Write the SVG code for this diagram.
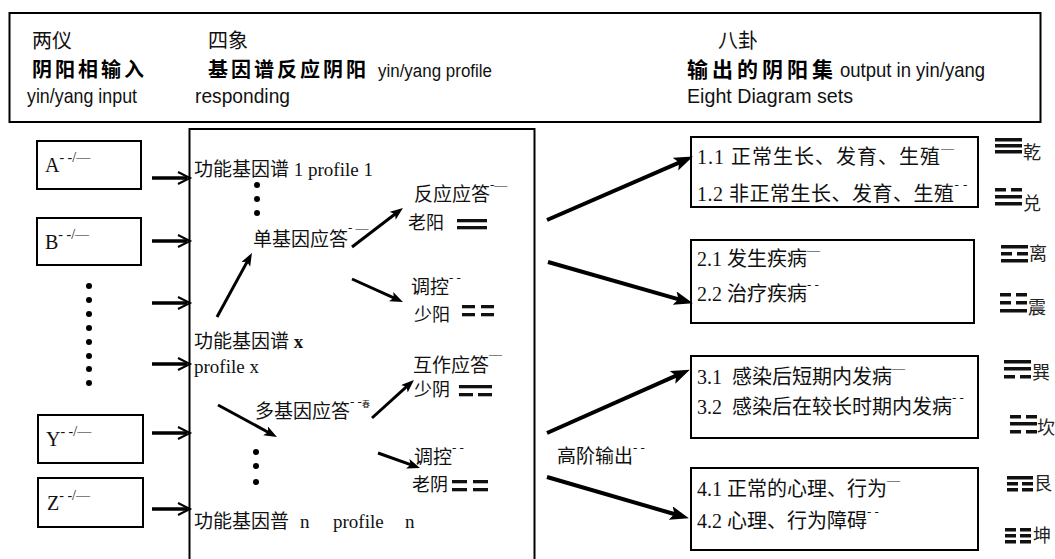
<svg xmlns="http://www.w3.org/2000/svg" width="1055" height="559" viewBox="0 0 1055 559">
<style>
.box{fill:none;stroke:#000;stroke-width:2}
.ser{font-family:"Liberation Serif","Noto Sans CJK SC",serif;fill:#111}
.hd{font-family:"Noto Sans CJK SC",serif;fill:#111}
.hb{font-family:"Noto Sans CJK SC",serif;font-weight:700;fill:#000}
.en{font-family:"Liberation Sans",sans-serif;fill:#111}
.m{font-size:19px}
.d{font-size:18px}
.r{font-size:20px}
.sup{font-size:13px}
.sl{font-size:14px}
.ln{stroke:#000;fill:none}
.bar{fill:#111}
</style>
<defs>
<marker id="open" markerUnits="userSpaceOnUse" markerWidth="16" markerHeight="16" refX="10" refY="7" orient="auto">
<path d="M1,1 L13,7 L1,13" fill="none" stroke="#000" stroke-width="2"/>
</marker>
<marker id="sm" markerUnits="userSpaceOnUse" markerWidth="14" markerHeight="12" refX="6" refY="5" orient="auto">
<path d="M0,0 L13,5 L0,10 L3,5 z" fill="#000"/>
</marker>
<marker id="lg" markerUnits="userSpaceOnUse" markerWidth="20" markerHeight="16" refX="9" refY="7" orient="auto">
<path d="M0,0 L19,7 L0,14 L4,7 z" fill="#000"/>
</marker>
</defs>
<rect width="1055" height="559" fill="#fff"/>

<g id="header">
<rect class="box" x="9.5" y="13" width="1031" height="109"/>
<text class="hd" x="32" y="48" font-size="20">两仪</text>
<text class="hd" x="208" y="48" font-size="20">四象</text>
<text class="hd" x="718" y="48" font-size="20">八卦</text>
<text class="hb" x="32" y="77" font-size="20" letter-spacing="3">阴阳相输入</text>
<text class="hb" x="208" y="77" font-size="20" letter-spacing="3">基因谱反应阴阳</text>
<text class="en" x="378" y="77" font-size="18" textLength="114" lengthAdjust="spacingAndGlyphs">yin/yang profile</text>
<text class="hb" x="687" y="77" font-size="21" letter-spacing="4">输出的阴阳集</text>
<text class="en" x="840" y="77" font-size="21" textLength="145" lengthAdjust="spacingAndGlyphs">output in yin/yang</text>
<text class="en" x="27" y="103" font-size="21" textLength="110" lengthAdjust="spacingAndGlyphs">yin/yang input</text>
<text class="en" x="195" y="103" font-size="21" textLength="95" lengthAdjust="spacingAndGlyphs">responding</text>
<text class="en" x="687" y="103" font-size="21" textLength="166" lengthAdjust="spacingAndGlyphs">Eight Diagram sets</text>
</g>

<g id="input-A"><rect class="box" x="37" y="141" width="104" height="48"/><text class="ser" x="45" y="172" font-size="20">A<tspan class="sl" dy="-10">- -/—</tspan></text></g>
<g id="input-B"><rect class="box" x="37" y="218" width="104" height="47"/><text class="ser" x="45" y="249" font-size="20">B<tspan class="sl" dy="-10">- -/—</tspan></text></g>
<g id="input-dots">
<circle cx="89" cy="286" r="3"/><circle cx="89" cy="300" r="3"/><circle cx="89" cy="314" r="3"/><circle cx="89" cy="328" r="3"/><circle cx="89" cy="342" r="3"/><circle cx="89" cy="356" r="3"/><circle cx="89" cy="369" r="3"/><circle cx="89" cy="383" r="3"/>
</g>
<g id="input-Y"><rect class="box" x="38" y="415" width="105" height="48"/><text class="ser" x="46" y="446" font-size="20">Y<tspan class="sl" dy="-10">- -/—</tspan></text></g>
<g id="input-Z"><rect class="box" x="38" y="478" width="105" height="49"/><text class="ser" x="47" y="510" font-size="20">Z<tspan class="sl" dy="-10">- -/—</tspan></text></g>

<g id="profiles">
<rect class="box" x="189.5" y="129" width="345" height="450"/>
<text class="ser m" x="194" y="176">功能基因谱 1 profile 1</text>
<circle cx="257" cy="185" r="3"/><circle cx="257" cy="199" r="3"/><circle cx="257" cy="213" r="3"/>
<text class="ser m" x="253" y="246">单基因应答<tspan class="sup" dy="-14">- —</tspan></text>
<text class="ser m" x="414" y="201">反应应答<tspan class="sup" dy="-12">-—</tspan></text>
<text class="ser d" x="408" y="229">老阳</text>
<text class="ser m" x="411" y="294">调控<tspan class="sup" dy="-12">- -</tspan></text>
<text class="ser d" x="414" y="321">少阳</text>
<text class="ser m" x="194" y="348">功能基因谱 <tspan font-weight="700">x</tspan></text>
<text class="ser m" x="194" y="373">profile x</text>
<text class="ser m" x="413" y="372">互作应答<tspan class="sup" dy="-14">—</tspan></text>
<text class="ser d" x="414" y="396">少阴</text>
<text class="ser m" x="255" y="418">多基因应答<tspan class="sup" dy="-12">- -</tspan><tspan font-size="8" dy="1">春</tspan></text>
<circle cx="256" cy="452" r="3"/><circle cx="256" cy="466" r="3"/><circle cx="256" cy="482" r="3"/>
<text class="ser m" x="414" y="464">调控<tspan class="sup" dy="-12">- -</tspan></text>
<text class="ser d" x="412" y="491">老阴</text>
<text class="ser m" y="528"><tspan x="194">功能基因普</tspan><tspan x="300">n</tspan><tspan x="333">profile</tspan><tspan x="405">n</tspan></text>
<g id="digrams">
<rect class="bar" x="457" y="219" width="30" height="3.3"/><rect class="bar" x="457" y="226" width="30" height="3.3"/>
<rect class="bar" x="462" y="305" width="13" height="3.3"/><rect class="bar" x="481" y="305" width="13" height="3.3"/><rect class="bar" x="462" y="313" width="13" height="3.3"/><rect class="bar" x="481" y="313" width="13" height="3.3"/>
<rect class="bar" x="459" y="385" width="33" height="3.3"/><rect class="bar" x="459" y="393" width="14" height="3.3"/><rect class="bar" x="478" y="393" width="14" height="3.3"/>
<rect class="bar" x="452" y="480" width="15" height="3.3"/><rect class="bar" x="473" y="480" width="15" height="3.3"/><rect class="bar" x="452" y="488" width="15" height="3.3"/><rect class="bar" x="473" y="488" width="15" height="3.3"/>
</g>
</g>

<g id="out1"><rect class="box" x="691" y="137" width="287" height="70"/>
<text class="ser r" x="697" y="164" letter-spacing="1">1.1 正常生长、发育、生殖<tspan class="sup" dy="-12">—</tspan></text>
<text class="ser r" x="697" y="201" letter-spacing="0.5">1.2 非正常生长、发育、生殖<tspan class="sup" dy="-12">- -</tspan></text></g>
<g id="out2"><rect class="box" x="691" y="240" width="283" height="83"/>
<text class="ser r" x="697" y="266">2.1 发生疾病<tspan class="sup" dy="-12">—</tspan></text>
<text class="ser r" x="697" y="301">2.2 治疗疾病<tspan class="sup" dy="-12">- -</tspan></text></g>
<g id="out3"><rect class="box" x="691" y="356" width="287" height="82"/>
<text class="ser r" y="384"><tspan x="697">3.1</tspan><tspan x="732">感染后短期内发病</tspan><tspan class="sup" dy="-12">—</tspan></text>
<text class="ser r" y="414"><tspan x="697">3.2</tspan><tspan x="732">感染后在较长时期内发病</tspan><tspan class="sup" dy="-12">- -</tspan></text></g>
<g id="out4"><rect class="box" x="691" y="468" width="287" height="82"/>
<text class="ser r" x="697" y="496">4.1 正常的心理、行为<tspan class="sup" dy="-12">—</tspan></text>
<text class="ser r" x="697" y="528">4.2 心理、行为障碍<tspan class="sup" dy="-12">- -</tspan></text></g>
<text class="ser" x="557" y="463" font-size="19">高阶输出<tspan class="sup" dy="-11">- -</tspan></text>

<g id="trigrams" font-family="Noto Sans CJK SC, sans-serif" font-size="18" fill="#222">
<g id="qian"><rect class="bar" x="995" y="138" width="27" height="3.5"/><rect class="bar" x="995" y="144" width="27" height="3.5"/><rect class="bar" x="995" y="150" width="27" height="3.5"/><text x="1023" y="159">乾</text></g>
<g id="dui"><rect class="bar" x="995" y="188" width="11" height="3.5"/><rect class="bar" x="1011" y="188" width="11" height="3.5"/><rect class="bar" x="995" y="195" width="27" height="3.5"/><rect class="bar" x="995" y="202" width="27" height="3.5"/><text x="1023" y="210">兑</text></g>
<g id="li"><rect class="bar" x="1001" y="245" width="27" height="3.5"/><rect class="bar" x="1001" y="252" width="11" height="3.5"/><rect class="bar" x="1017" y="252" width="11" height="3.5"/><rect class="bar" x="1001" y="259" width="27" height="3.5"/><text x="1029" y="260">离</text></g>
<g id="zhen"><rect class="bar" x="1000" y="293" width="11" height="3.5"/><rect class="bar" x="1016" y="293" width="11" height="3.5"/><rect class="bar" x="1000" y="301" width="11" height="3.5"/><rect class="bar" x="1016" y="301" width="11" height="3.5"/><rect class="bar" x="1000" y="309" width="27" height="3.5"/><text x="1028" y="314">震</text></g>
<g id="xun"><rect class="bar" x="1004" y="360" width="27" height="3.5"/><rect class="bar" x="1004" y="367" width="27" height="3.5"/><rect class="bar" x="1004" y="375" width="11" height="3.5"/><rect class="bar" x="1020" y="375" width="11" height="3.5"/><text x="1032" y="379">巽</text></g>
<g id="kan"><rect class="bar" x="1010" y="415" width="11" height="3.5"/><rect class="bar" x="1026" y="415" width="11" height="3.5"/><rect class="bar" x="1010" y="422" width="27" height="3.5"/><rect class="bar" x="1010" y="430" width="11" height="3.5"/><rect class="bar" x="1026" y="430" width="11" height="3.5"/><text x="1037" y="434">坎</text></g>
<g id="gen"><rect class="bar" x="1007" y="476" width="26" height="3.5"/><rect class="bar" x="1007" y="482" width="11" height="3.5"/><rect class="bar" x="1022" y="482" width="11" height="3.5"/><rect class="bar" x="1007" y="488" width="11" height="3.5"/><rect class="bar" x="1022" y="488" width="11" height="3.5"/><text x="1034" y="490">艮</text></g>
<g id="kun"><rect class="bar" x="1005" y="528" width="11" height="3.5"/><rect class="bar" x="1020" y="528" width="11" height="3.5"/><rect class="bar" x="1005" y="534" width="11" height="3.5"/><rect class="bar" x="1020" y="534" width="11" height="3.5"/><rect class="bar" x="1005" y="540" width="11" height="3.5"/><rect class="bar" x="1020" y="540" width="11" height="3.5"/><text x="1033" y="542">坤</text></g>
</g>

<g id="connectors">
<g class="ln" stroke-width="3.5" marker-end="url(#open)">
<line x1="152" y1="178" x2="187" y2="178"/>
<line x1="152" y1="241" x2="187" y2="241"/>
<line x1="152" y1="303" x2="187" y2="303"/>
<line x1="152" y1="364" x2="187" y2="364"/>
<line x1="152" y1="433" x2="187" y2="433"/>
<line x1="152" y1="509" x2="187" y2="509"/>
</g>
<g class="ln" stroke-width="3" marker-end="url(#sm)">
<line x1="217" y1="317" x2="248.6" y2="259.1"/>
<line x1="352" y1="247" x2="397.4" y2="212.2"/>
<line x1="352" y1="279" x2="396.6" y2="299.1"/>
<line x1="218" y1="405" x2="270.8" y2="433.7"/>
<line x1="372" y1="418" x2="408.8" y2="384.7"/>
<line x1="378" y1="453" x2="413.4" y2="465.7"/>
</g>
<g class="ln" stroke-width="4" marker-end="url(#lg)">
<line x1="547" y1="220" x2="683.7" y2="160.6"/>
<line x1="548" y1="262" x2="683.3" y2="300.6"/>
<line x1="547" y1="433" x2="680.7" y2="373.7"/>
<line x1="547" y1="477" x2="679.3" y2="515.5"/>
</g>
</g>
</svg>
